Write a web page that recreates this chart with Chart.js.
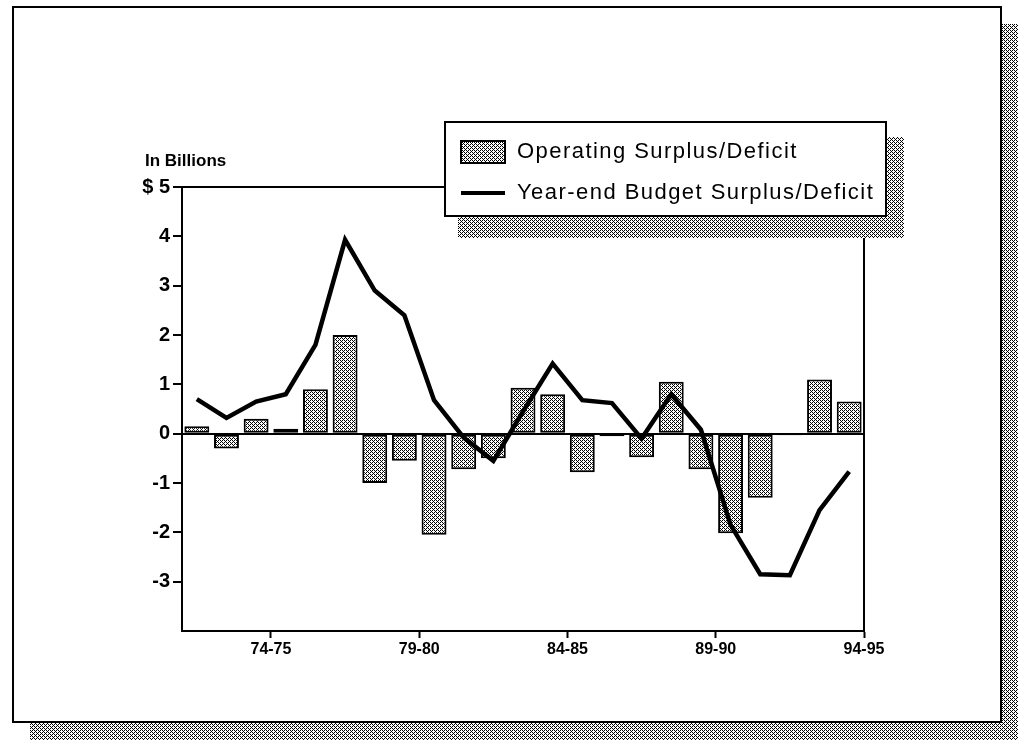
<!DOCTYPE html>
<html>
<head>
<meta charset="utf-8">
<title>Operating and Year-end Budget Surplus/Deficit</title>
<script src="https://cdn.jsdelivr.net/npm/chart.js@4/dist/chart.umd.min.js"></script>
<style>
  html, body { margin: 0; padding: 0; background: #fff; }
  canvas { display: block; }
</style>
</head>
<body>
<canvas id="budgetChart" width="1018" height="740"></canvas>
<script>
// Fiscal years, $ billions
const years = [
  "72-73", "73-74", "74-75", "75-76", "76-77", "77-78", "78-79", "79-80",
  "80-81", "81-82", "82-83", "83-84", "84-85", "85-86", "86-87", "87-88",
  "88-89", "89-90", "90-91", "91-92", "92-93", "93-94", "94-95",
];
const operating = [
  0.15, -0.3, 0.3, 0.1, 0.9, 2.0, -1.0, -0.55,
  -2.05, -0.72, -0.5, 0.93, 0.8, -0.78, -0.05, -0.48,
  1.05, -0.72, -2.02, -1.3, -0.03, 1.1, 0.65,
];
const yearEnd = [
  0.7, 0.32, 0.65, 0.8, 1.8, 3.93, 2.9, 2.4,
  0.68, -0.08, -0.55, 0.45, 1.42, 0.68, 0.62, -0.1,
  0.8, 0.08, -1.85, -2.85, -2.87, -1.55, -0.77,
];
const labeledYears = ["74-75", "79-80", "84-85", "89-90", "94-95"];
const yMin = -4;
const yMax = 5;

const FONT = "'Liberation Sans', Arial, Helvetica, sans-serif";
Chart.defaults.font.family = FONT;
Chart.defaults.color = "#000";

const canvas = document.getElementById("budgetChart");
const ctx = canvas.getContext("2d");

// halftone dot fill used for bars and drop shadows
function halftone() {
  const rows = ["x.x.", ".x..", "x.x.", "...x"];
  const tile = document.createElement("canvas");
  tile.width = 4;
  tile.height = 4;
  const g = tile.getContext("2d");
  g.fillStyle = "#fff";
  g.fillRect(0, 0, 4, 4);
  g.fillStyle = "#000";
  rows.forEach((row, y) => {
    [...row].forEach((ch, x) => {
      if (ch === "x") g.fillRect(x, y, 1, 1);
    });
  });
  return ctx.createPattern(tile, "repeat");
}
const dotFill = halftone();

const PLOT = { left: 182, right: 864, top: 187, bottom: 631 };

// page frame, plot box and the boxed legend
const decor = {
  id: "decor",
  beforeDraw(chart) {
    const c = chart.ctx;
    c.save();
    c.fillStyle = dotFill;
    c.fillRect(30, 24, 988, 716);
    c.fillStyle = "#fff";
    c.fillRect(13, 7, 988, 715);
    c.strokeStyle = "#000";
    c.lineWidth = 2;
    c.strokeRect(13, 7, 988, 715);

    c.fillStyle = "#000";
    c.font = "bold 17px " + FONT;
    c.textBaseline = "middle";
    c.fillText("In Billions", 145, 161);
    c.restore();
  },
  afterDraw(chart) {
    const c = chart.ctx;
    const a = chart.chartArea;
    c.save();
    c.strokeStyle = "#000";
    c.lineWidth = 2;
    c.beginPath();
    c.moveTo(a.left, a.top);
    c.lineTo(a.right, a.top);
    c.lineTo(a.right, a.bottom);
    c.stroke();

    // legend
    const box = { x: 445, y: 122, w: 441, h: 94 };
    c.fillStyle = dotFill;
    c.fillRect(box.x + 13, box.y + 15, box.w + 5, box.h + 7);
    c.fillStyle = "#fff";
    c.fillRect(box.x, box.y, box.w, box.h);
    c.strokeRect(box.x, box.y, box.w, box.h);

    const ds = chart.data.datasets;
    c.fillStyle = dotFill;
    c.fillRect(461, 141, 44, 22);
    c.strokeRect(461, 141, 44, 22);
    c.lineWidth = 4;
    c.beginPath();
    c.moveTo(461, 193);
    c.lineTo(505, 193);
    c.stroke();

    c.fillStyle = "#000";
    c.font = "22px " + FONT;
    c.letterSpacing = "1.45px";
    c.textBaseline = "middle";
    c.fillText(ds[0].label, 517, 152);
    c.fillText(ds[1].label, 517, 193);
    c.restore();
  },
};

const budgetChart = new Chart(ctx, {
  data: {
    labels: years,
    datasets: [
      {
        type: "bar",
        label: "Operating Surplus/Deficit",
        data: operating,
        backgroundColor: dotFill,
        borderColor: "#000",
        borderWidth: 2,
        borderSkipped: false,
        categoryPercentage: 1,
        barPercentage: 0.84,
        order: 1,
      },
      {
        type: "line",
        label: "Year-end Budget Surplus/Deficit",
        data: yearEnd,
        borderColor: "#000",
        borderWidth: 4.5,
        pointRadius: 0,
        tension: 0,
        fill: false,
        order: 0,
      },
    ],
  },
  options: {
    responsive: false,
    animation: false,
    devicePixelRatio: 1,
    layout: {
      padding: { top: PLOT.top, right: 1018 - PLOT.right, left: 0, bottom: 0 },
    },
    plugins: {
      legend: { display: false },
      tooltip: { enabled: false },
    },
    scales: {
      x: {
        type: "category",
        offset: true,
        afterFit(scale) {
          scale.height = 740 - PLOT.bottom;
        },
        border: { color: "#000", width: 2 },
        grid: {
          offset: true,
          drawOnChartArea: false,
          drawTicks: true,
          tickLength: 7,
          tickWidth: 2,
          color: "transparent",
          tickColor: (c) =>
            c.index === undefined || (c.index - 3) % 5 === 0 ? "#000" : "transparent",
        },
        ticks: {
          autoSkip: false,
          maxRotation: 0,
          padding: 2,
          labelOffset: (PLOT.right - PLOT.left) / years.length / 2,
          font: { size: 16, weight: "bold" },
          callback: (v, i) => (labeledYears.includes(years[i]) ? years[i] : ""),
        },
      },
      y: {
        min: yMin,
        max: yMax,
        afterFit(scale) {
          scale.width = PLOT.left;
        },
        border: { color: "#000", width: 2 },
        grid: {
          drawOnChartArea: true,
          color: (c) => (c.tick && c.tick.value === 0 ? "#000" : "transparent"),
          lineWidth: 2,
          tickLength: 9,
          tickWidth: 2,
          tickColor: (c) => (c.tick && c.tick.value > yMin ? "#000" : "transparent"),
        },
        ticks: {
          stepSize: 1,
          padding: 3,
          font: { size: 20, weight: "bold" },
          callback: (v) => (v === yMax ? "$ " + v : v === yMin ? "" : String(v)),
        },
      },
    },
  },
  plugins: [decor],
});
</script>
</body>
</html>
